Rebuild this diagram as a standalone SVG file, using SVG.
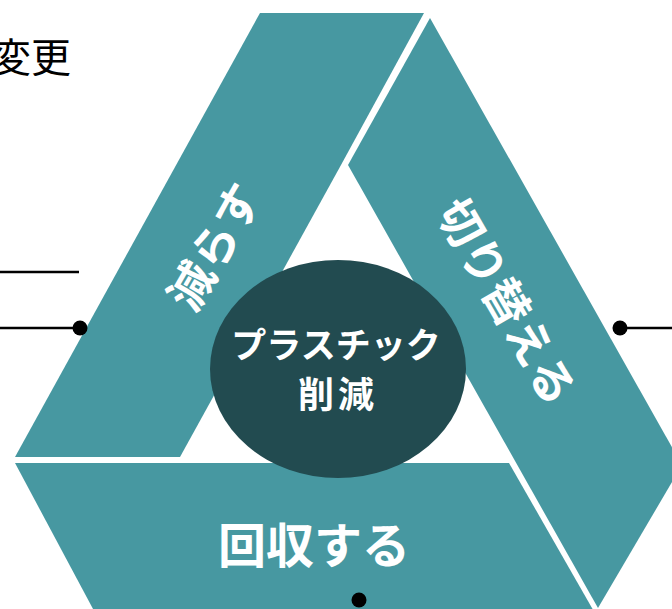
<svg xmlns="http://www.w3.org/2000/svg" width="672" height="609" viewBox="0 0 672 609">
  <style>
    .band { fill: #4798A1; }
    .hub { fill: #224B50; }
    .lbl { font-family: "Noto Sans CJK JP", "Noto Sans", sans-serif; font-weight: bold; fill: #FFFFFF; }
    .plain { font-family: "Noto Sans CJK JP", "Noto Sans", sans-serif; fill: #000000; }
    .conn { stroke: #000000; stroke-width: 2.5; fill: none; }
    .dot { fill: #000000; }
  </style>
  <rect width="672" height="609" fill="#FFFFFF"/>
  <text class="plain" x="71" y="72" font-size="40" text-anchor="end">変更</text>

  <g id="node-reduce">
    <polygon class="band" points="260,13 424,13 341,165 180,457 15,457"/>
    <text class="lbl" font-size="46" text-anchor="middle" dominant-baseline="central" transform="translate(212,245) rotate(-60)">減らす</text>
  </g>
  <g id="node-switch">
    <polygon class="band" points="430,18 682,465 598,608 348,165"/>
    <text class="lbl" font-size="46" text-anchor="middle" dominant-baseline="central" transform="translate(509,300) rotate(60)">切り替える</text>
  </g>
  <g id="node-collect">
    <polygon class="band" points="15,463 509,463 600,622 100,622"/>
    <text class="lbl" x="314" y="563" font-size="48" text-anchor="middle">回収する</text>
  </g>
  <g id="node-center">
    <ellipse class="hub" cx="338" cy="369" rx="128" ry="109"/>
    <text class="lbl" x="336" y="358" font-size="35" text-anchor="middle">プラスチック</text>
    <text class="lbl" x="338" y="408" font-size="36" text-anchor="middle" letter-spacing="4">削減</text>
  </g>

  <g id="connectors">
    <line class="conn" x1="0" y1="272" x2="79" y2="272"/>
    <line class="conn" x1="0" y1="328" x2="80" y2="328"/>
    <circle class="dot" cx="80" cy="328" r="7.5"/>
    <line class="conn" x1="620" y1="328" x2="672" y2="328"/>
    <circle class="dot" cx="620" cy="328" r="7.5"/>
    <circle class="dot" cx="359" cy="600" r="7.5"/>
  </g>
</svg>
